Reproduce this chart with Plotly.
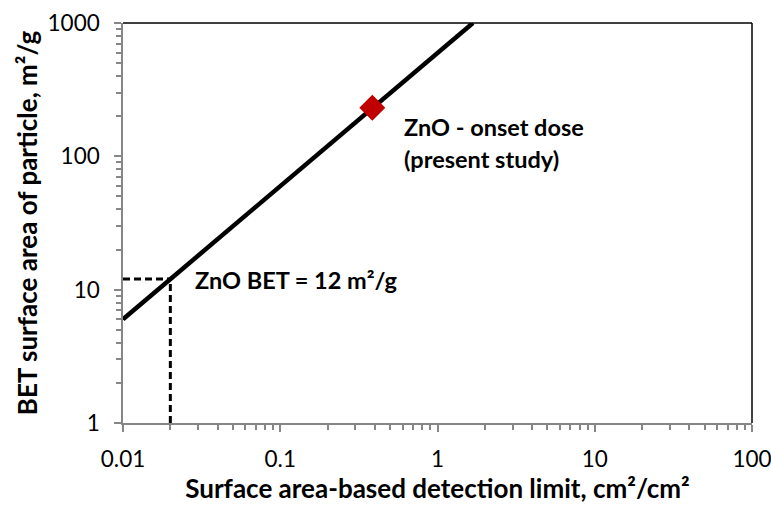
import math
import plotly.graph_objects as go

# Data
line_x = [0.01, 1.68]
line_y = [6.0, 1000]
onset_x = [0.385]
onset_y = [231]
bet_x = 0.02
bet_y = 12
x_range = [0.01, 100]
y_range = [1, 1000]

FONT = "Lato"
AXIS_GRAY = "#868686"
L = math.log10

fig = go.Figure()

dash = dict(color="black", width=3, dash="7px,4px")
fig.add_trace(go.Scatter(x=[x_range[0], bet_x], y=[bet_y, bet_y], mode="lines",
                         line=dash, showlegend=False))
fig.add_trace(go.Scatter(x=[bet_x, bet_x], y=[y_range[0], bet_y], mode="lines",
                         line=dash, showlegend=False))
fig.add_trace(go.Scatter(x=line_x, y=line_y, mode="lines",
                         line=dict(color="black", width=4.5), showlegend=False))
fig.add_trace(go.Scatter(x=onset_x, y=onset_y, mode="markers",
                         marker=dict(symbol="diamond", size=20, color="#C00000"), showlegend=False))

ann_font = dict(family=FONT, size=23.5, color="black")
fig.add_annotation(x=L(0.0278), y=L(11.8), xref="x", yref="y", yanchor="middle", xanchor="left",
                   text="<b>ZnO BET = 12 m²/g</b>", showarrow=False, font=ann_font)
fig.add_annotation(x=L(0.594), y=L(166), xref="x", yref="y", xanchor="left", yanchor="middle",
                   text="<b>ZnO - onset dose</b>", showarrow=False, font=ann_font)
fig.add_annotation(x=L(0.594), y=L(96), xref="x", yref="y", xanchor="left", yanchor="middle",
                   text="<b>(present study)</b>", showarrow=False, font=ann_font)

fig.add_shape(type="line", xref="paper", yref="paper", x0=0, x1=1, y0=1, y1=1,
              line=dict(color="black", width=1.5))
fig.add_shape(type="line", xref="paper", yref="paper", x0=1, x1=1, y0=0, y1=1,
              line=dict(color="black", width=1.5))

axis_common = dict(
    type="log", showgrid=False, zeroline=False, showline=True, linecolor=AXIS_GRAY,
    linewidth=1.5, ticks="outside", ticklen=7, tickcolor=AXIS_GRAY, tickwidth=1.5,
    dtick=1, tickformat="~g", tickfont=dict(family=FONT, size=22.5, color="black"),
    ticklabeloverflow="allow", automargin=False,
    minor=dict(ticks="outside", ticklen=5, tickcolor=AXIS_GRAY, tickwidth=1.5, dtick="D1", showgrid=False),
)

fig.update_xaxes(range=[-2, 2], **axis_common, ticklabelstandoff=8,
                 title=dict(text="<b>Surface area-based detection limit, cm²/cm²</b>",
                            font=dict(family=FONT, size=26, color="black"), standoff=1))
fig.update_yaxes(range=[0, 3], **axis_common, ticklabelstandoff=10,
                 title=dict(text="<b>BET surface area of particle, m²/g</b>",
                            font=dict(family=FONT, size=26, color="black"), standoff=2))

fig.update_layout(
    width=771, height=505,
    margin=dict(l=123, r=19, t=23, b=82, autoexpand=False),
    plot_bgcolor="white", paper_bgcolor="white",
)

fig.write_html("out.html")
